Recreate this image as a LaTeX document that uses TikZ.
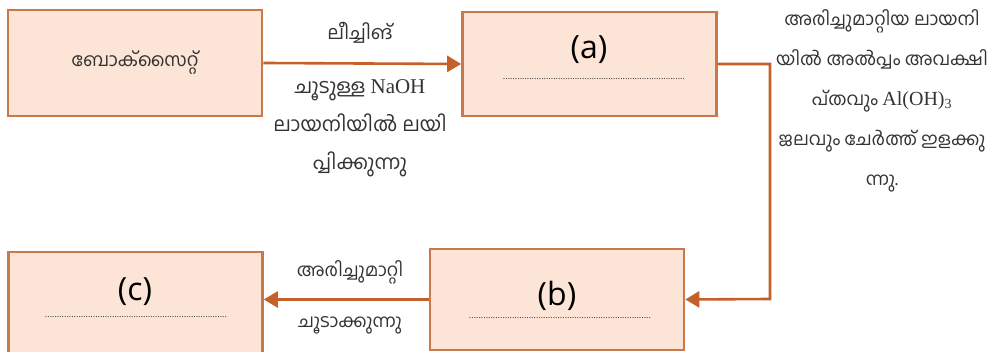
\documentclass[tikz,border=0pt]{standalone}
\usepackage{fontspec}
\setmainfont{Liberation Serif}
\newfontfamily\ml[Script=Malayalam]{Hind Kochi}
\newfontfamily\lab{Open Sans}
\usetikzlibrary{arrows.meta}
\definecolor{boxfill}{HTML}{FCE4D6}
\definecolor{boxdraw}{HTML}{C8784C}
\definecolor{arr}{HTML}{C4602A}
\definecolor{txt}{HTML}{333333}
\tikzset{
  procbox/.style={draw=boxdraw, fill=boxfill, line width=2.6pt, minimum width=254pt, inner sep=0pt},
  flow/.style={draw=arr, line width=2.6pt, -{Triangle[length=14pt,width=16pt]}},
  mltext/.style={font=\ml\fontsize{18}{38}\selectfont, text=txt, align=center, inner sep=0pt},
  blank/.style={font=\lab\fontsize{32}{34}\selectfont, inner sep=0pt},
  dots/.style={font=\lab\fontsize{9}{10}\selectfont, text=black!80, inner sep=0pt}
}
\newcommand{\dotrow}{............................................................................}
\begin{document}
\begin{tikzpicture}[x=1pt,y=1pt]
\useasboundingbox (0,0) rectangle (992,352);
% boxes
\node[procbox, minimum height=106pt] (baux) at (135,289) {};
\node[procbox, minimum height=104pt] (a) at (589.5,288) {};
\node[procbox, minimum height=101pt] (b) at (557,52.5) {};
\node[procbox, minimum height=104pt] (c) at (135.5,48) {};
% box texts
\node[mltext, font=\ml\fontsize{18.5}{20}\selectfont] (bauxt) at (baux.center) {ബോക്സൈറ്റ്};
\node[blank] (at) at (589,302) {(a)};
\node[dots] (ad) at (594,273) {\dotrow};
\node[blank] (bt) at (557,56) {(b)};
\node[dots] (bd) at (560,34) {\dotrow};
\node[blank] (ct) at (135,60) {(c)};
\node[dots] (cd) at (136,35) {\dotrow};
% connectors
\coordinate (r1) at (770,288);
\coordinate (r2) at (770,53);
\draw[flow] (baux.east) -- (a.west);
\draw[flow] (a.east) -- (r1) -- (r2) -- (b.east);
\draw[flow] (b.west) -- (b.west -| c.east);
% labels
\node[mltext, font=\ml\fontsize{19}{38}\selectfont] (l1) at (360,319) {ലീച്ചിങ്};
\node[mltext, anchor=north, font=\ml\fontsize{20}{38}\selectfont] (l2) at (360,273) {ചൂടുള്ള {\rmfamily\fontsize{21}{38}\selectfont NaOH}\\ലായനിയിൽ ലയി\\പ്പിക്കുന്നു};
\node[mltext, anchor=north, font=\ml\fontsize{18}{40}\selectfont] (l3) at (882,343) {അരിച്ചുമാറ്റിയ ലായനി\\യിൽ അൽപ്പം അവക്ഷി\\പ്തവും {\rmfamily\fontsize{20}{40}\selectfont Al(OH)\textsubscript{3}}\\ജലവും ചേർത്ത് ഇളക്കു\\ന്നു.};
\node[mltext] (l4) at (350,80) {അരിച്ചുമാറ്റി};
\node[mltext] (l5) at (350,27) {ചൂടാക്കുന്നു};
\end{tikzpicture}
\end{document}
